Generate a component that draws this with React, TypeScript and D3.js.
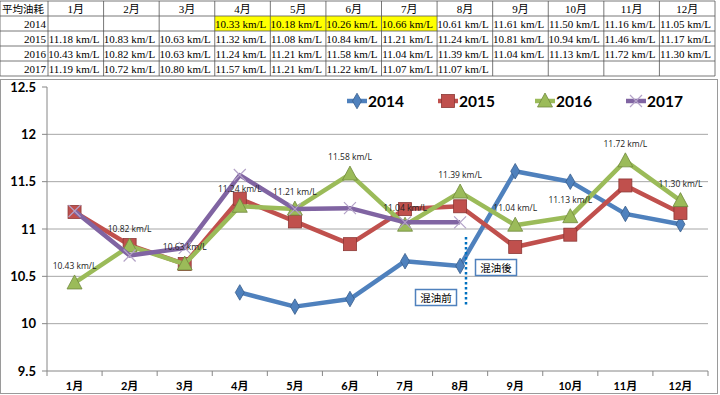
import { useEffect, useRef } from 'react';
import * as d3 from 'd3';

const months = ['1月', '2月', '3月', '4月', '5月', '6月', '7月', '8月', '9月', '10月', '11月', '12月'];
const years = ['2014', '2015', '2016', '2017'];
const v2014 = [null, null, null, 10.33, 10.18, 10.26, 10.66, 10.61, 11.61, 11.50, 11.16, 11.05];
const v2015 = [11.18, 10.83, 10.63, 11.32, 11.08, 10.84, 11.21, 11.24, 10.81, 10.94, 11.46, 11.17];
const v2016 = [10.43, 10.82, 10.63, 11.24, 11.21, 11.58, 11.04, 11.39, 11.04, 11.13, 11.72, 11.30];
const v2017 = [11.19, 10.72, 10.80, 11.57, 11.21, 11.22, 11.07, 11.07, null, null, null, null];
const yTicks = [9.5, 10, 10.5, 11, 11.5, 12, 12.5];
const highlight2014 = [3, 4, 5, 6];

const seriesList = [
  { name: '2014', values: v2014, color: '#4F81BD', marker: 'diamond' },
  { name: '2015', values: v2015, color: '#C0504D', marker: 'square' },
  { name: '2016', values: v2016, color: '#9BBB59', marker: 'triangle' },
  { name: '2017', values: v2017, color: '#8064A2', marker: 'x' },
];

const W = 720;
const H = 395;
const cjk = "'Noto Sans CJK TC', sans-serif";
const serif = "'Liberation Serif', 'Noto Sans CJK TC', serif";
const chartFont = "Lato, 'Noto Sans CJK TC', sans-serif";

function drawMarker(g, type, x, y, color) {
  if (type === 'diamond') {
    g.append('path').attr('d', d3.symbol(d3.symbolDiamond, 70)())
      .attr('transform', `translate(${x},${y})`)
      .attr('fill', color).attr('stroke', '#385D8A').attr('stroke-width', 0.8);
  } else if (type === 'square') {
    g.append('rect').attr('x', x - 6.5).attr('y', y - 6.5).attr('width', 13).attr('height', 13)
      .attr('fill', color).attr('stroke', '#8C3836').attr('stroke-width', 0.8);
  } else if (type === 'triangle') {
    g.append('path').attr('d', `M${x},${y - 8}L${x + 7.5},${y + 6}L${x - 7.5},${y + 6}Z`)
      .attr('fill', color).attr('stroke', '#71893F').attr('stroke-width', 0.8);
  } else {
    g.append('path').attr('d', `M${x - 6},${y - 6}L${x + 6},${y + 6}M${x - 6},${y + 6}L${x + 6},${y - 6}`)
      .attr('stroke', '#B3A2C7').attr('stroke-width', 1.2).attr('fill', 'none');
  }
}

const App = () => {
  const svgRef = useRef(null);

  useEffect(() => {
    const svg = d3.select(svgRef.current);
    svg.selectAll('*').remove();

    // table
    const colX = d3.scaleBand().domain(months).range([48, 715]);
    const rowY = d3.scaleBand().domain(['head', ...years]).range([1, 76]);
    const table = svg.append('g');
    const rows = [null, v2014, v2015, v2016, v2017];

    highlight2014.forEach(i => {
      table.append('rect').attr('x', colX(months[i])).attr('y', rowY('2014'))
        .attr('width', colX.bandwidth()).attr('height', rowY.bandwidth()).attr('fill', '#FFFF00');
    });

    [0, ...months.map(m => colX(m) as number), 715].forEach(xx => {
      table.append('line').attr('x1', xx).attr('x2', xx).attr('y1', 1).attr('y2', 76)
        .attr('stroke', '#555').attr('stroke-width', 0.8);
    });
    ['head', ...years].forEach(r => {
      table.append('line').attr('x1', 0).attr('x2', 715).attr('y1', rowY(r)).attr('y2', rowY(r))
        .attr('stroke', '#555').attr('stroke-width', 0.8);
    });
    table.append('line').attr('x1', 0).attr('x2', 715).attr('y1', 76).attr('y2', 76)
      .attr('stroke', '#555').attr('stroke-width', 0.8);

    table.append('text').attr('x', 2).attr('y', rowY('head') + rowY.bandwidth() / 2 + 4)
      .attr('font-family', cjk).attr('font-size', 10.5).text('平均油耗');
    months.forEach(m => {
      table.append('text').attr('x', colX(m) + colX.bandwidth() / 2).attr('y', rowY('head') + rowY.bandwidth() / 2 + 4)
        .attr('text-anchor', 'middle').attr('font-family', serif).attr('font-size', 11).text(m);
    });
    years.forEach((yr, ri) => {
      const cy = rowY(yr) + rowY.bandwidth() / 2 + 4;
      table.append('text').attr('x', 46).attr('y', cy).attr('text-anchor', 'end')
        .attr('font-family', serif).attr('font-size', 11).text(yr);
      rows[ri + 1].forEach((v, i) => {
        if (v == null) return;
        table.append('text').attr('x', colX(months[i]) + colX.bandwidth() - 4).attr('y', cy)
          .attr('text-anchor', 'end').attr('font-family', serif).attr('font-size', 11)
          .text(`${v.toFixed(2)} km/L`);
      });
    });

    // chart
    svg.append('rect').attr('x', 0.5).attr('y', 79.5).attr('width', 717).attr('height', 314)
      .attr('fill', 'white').attr('stroke', '#9a9a9a');

    const x = d3.scaleBand().domain(months).range([47, 708]);
    const y = d3.scaleLinear().domain([9.5, 12.5]).range([371, 87]);
    const cx = (i) => x(months[i]) + x.bandwidth() / 2;

    const grid = svg.append('g');
    yTicks.forEach(t => {
      if (t !== 9.5 && t !== 12.5) {
        grid.append('line').attr('x1', 47).attr('x2', 708).attr('y1', y(t)).attr('y2', y(t))
          .attr('stroke', '#a6a6a6').attr('stroke-width', 1);
      }
      grid.append('line').attr('x1', 42).attr('x2', 47).attr('y1', y(t)).attr('y2', y(t))
        .attr('stroke', '#868686');
      grid.append('text').attr('x', 36).attr('y', y(t) + 4.5).attr('text-anchor', 'end')
        .attr('font-family', chartFont).attr('font-weight', 'bold').attr('font-size', 13).text(String(t));
    });
    grid.append('line').attr('x1', 47).attr('x2', 47).attr('y1', 87).attr('y2', 371).attr('stroke', '#868686');
    grid.append('line').attr('x1', 47).attr('x2', 708).attr('y1', 371).attr('y2', 371).attr('stroke', '#868686');
    [...months.map(m => x(m) as number), 708].forEach(tx => {
      grid.append('line').attr('x1', tx).attr('x2', tx).attr('y1', 371).attr('y2', 376).attr('stroke', '#868686');
    });
    months.forEach((m, i) => {
      grid.append('text').attr('x', cx(i)).attr('y', 390).attr('text-anchor', 'middle')
        .attr('font-family', chartFont).attr('font-weight', 'bold').attr('font-size', 11).text(m);
    });

    const line = d3.line().defined(d => d[1] != null).x(d => cx(d[0])).y(d => y(d[1]));
    seriesList.forEach(s => {
      const pts = s.values.map((v, i) => [i, v]);
      const g = svg.append('g');
      g.append('path').attr('d', line(pts)).attr('fill', 'none').attr('stroke', s.color)
        .attr('stroke-width', 4.5).attr('stroke-linejoin', 'round');
      pts.forEach(([i, v]) => {
        if (v == null) return;
        drawMarker(g, s.marker, cx(i), y(v), s.color);
      });
    });

    // data labels (2016)
    v2016.forEach((v, i) => {
      svg.append('text').attr('x', cx(i)).attr('y', y(v) - 14).attr('text-anchor', 'middle')
        .attr('font-family', "'Open Sans', sans-serif").attr('font-size', 8.5).attr('fill', '#222')
        .text(`${v.toFixed(2)} km/L`);
    });

    // annotations
    svg.append('line').attr('x1', 466).attr('x2', 466).attr('y1', 237).attr('y2', 305)
      .attr('stroke', '#0070C0').attr('stroke-width', 2.5).attr('stroke-dasharray', '2.5,2.5');
    const box = (bx, by, label) => {
      svg.append('rect').attr('x', bx).attr('y', by).attr('width', 41).attr('height', 16)
        .attr('fill', 'white').attr('stroke', '#4F81BD').attr('stroke-width', 1.5);
      svg.append('text').attr('x', bx + 20.5).attr('y', by + 12).attr('text-anchor', 'middle')
        .attr('font-family', cjk).attr('font-size', 10.5).text(label);
    };
    box(475.5, 259.5, '混油後');
    box(415.5, 289.5, '混油前');

    // legend
    const legX = [347, 438, 535, 626];
    seriesList.forEach((s, i) => {
      const lx = legX[i];
      const ly = 101;
      svg.append('line').attr('x1', lx).attr('x2', lx + 20).attr('y1', ly).attr('y2', ly)
        .attr('stroke', s.color).attr('stroke-width', 4.5);
      drawMarker(svg, s.marker, lx + 10, ly, s.color);
      svg.append('text').attr('x', lx + 21).attr('y', ly + 5.5).attr('font-family', chartFont)
        .attr('font-weight', 'bold').attr('font-size', 15.5).text(s.name);
    });
  }, []);

  return (
    <svg ref={svgRef} width={W} height={H}
      style={{ position: 'absolute', left: 0, top: 0, background: 'white' }} />
  );
};

export default App;
